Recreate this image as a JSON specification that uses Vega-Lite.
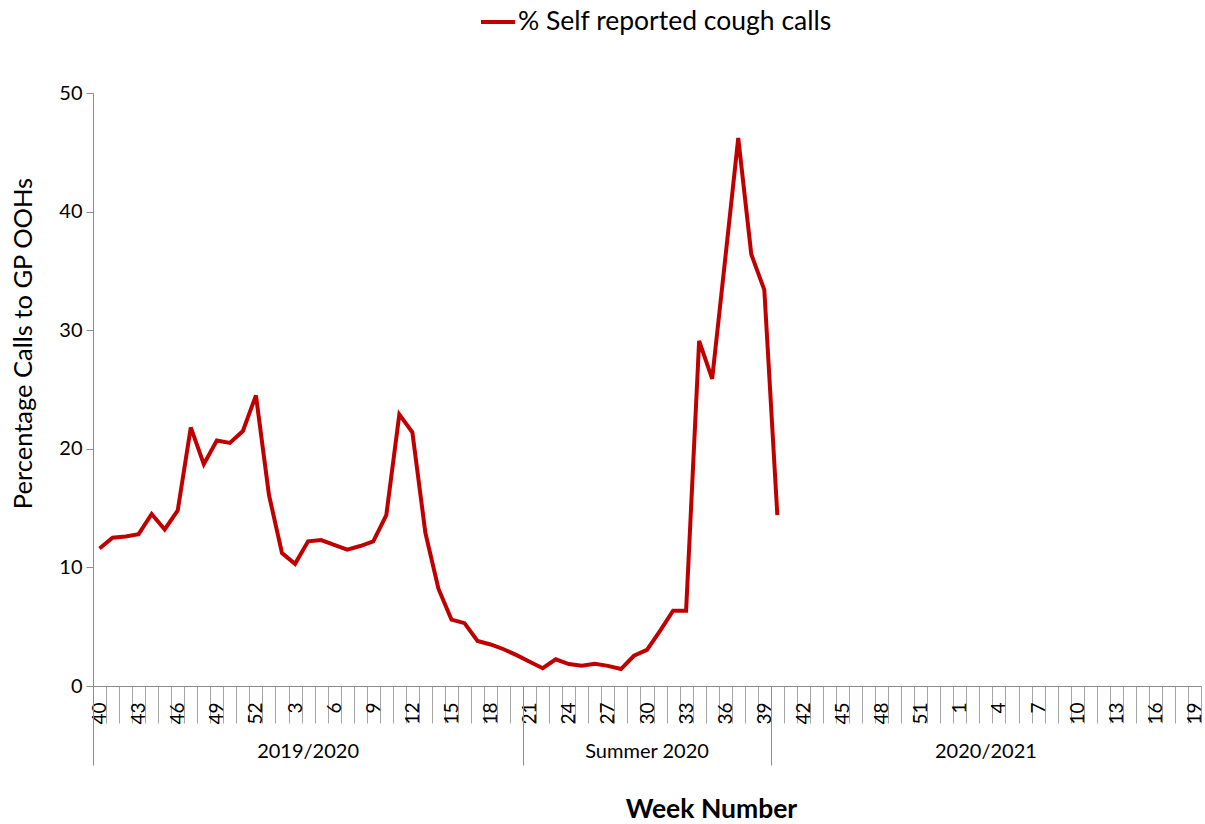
{
  "$schema": "https://vega.github.io/schema/vega-lite/v6.json",
  "width": 1108,
  "height": 593,
  "autosize": {"type": "none"},
  "padding": {"left": 93, "top": 93, "right": 4, "bottom": 138},
  "background": "white",
  "config": {
    "view": {"stroke": null},
    "font": "Lato",
    "axis": {"labelFont": "Lato", "titleFont": "Lato", "labelColor": "#000000", "titleColor": "#000000", "domainColor": "#8c8c8c", "tickColor": "#8c8c8c", "grid": false}
  },
  "layer": [
    {
      "data": {"values": [
        {"k": "00|40", "season": "2019/2020", "pct": 11.6},
        {"k": "01|41", "season": "2019/2020", "pct": 12.5},
        {"k": "02|42", "season": "2019/2020", "pct": 12.6},
        {"k": "03|43", "season": "2019/2020", "pct": 12.8},
        {"k": "04|44", "season": "2019/2020", "pct": 14.5},
        {"k": "05|45", "season": "2019/2020", "pct": 13.2},
        {"k": "06|46", "season": "2019/2020", "pct": 14.8},
        {"k": "07|47", "season": "2019/2020", "pct": 21.8},
        {"k": "08|48", "season": "2019/2020", "pct": 18.7},
        {"k": "09|49", "season": "2019/2020", "pct": 20.7},
        {"k": "10|50", "season": "2019/2020", "pct": 20.5},
        {"k": "11|51", "season": "2019/2020", "pct": 21.5},
        {"k": "12|52", "season": "2019/2020", "pct": 24.5},
        {"k": "13|1", "season": "2019/2020", "pct": 16.1},
        {"k": "14|2", "season": "2019/2020", "pct": 11.2},
        {"k": "15|3", "season": "2019/2020", "pct": 10.3},
        {"k": "16|4", "season": "2019/2020", "pct": 12.2},
        {"k": "17|5", "season": "2019/2020", "pct": 12.3},
        {"k": "18|6", "season": "2019/2020", "pct": 11.9},
        {"k": "19|7", "season": "2019/2020", "pct": 11.5},
        {"k": "20|8", "season": "2019/2020", "pct": 11.8},
        {"k": "21|9", "season": "2019/2020", "pct": 12.2},
        {"k": "22|10", "season": "2019/2020", "pct": 14.4},
        {"k": "23|11", "season": "2019/2020", "pct": 22.9},
        {"k": "24|12", "season": "2019/2020", "pct": 21.4},
        {"k": "25|13", "season": "2019/2020", "pct": 12.9},
        {"k": "26|14", "season": "2019/2020", "pct": 8.2},
        {"k": "27|15", "season": "2019/2020", "pct": 5.6},
        {"k": "28|16", "season": "2019/2020", "pct": 5.3},
        {"k": "29|17", "season": "2019/2020", "pct": 3.8},
        {"k": "30|18", "season": "2019/2020", "pct": 3.5},
        {"k": "31|19", "season": "2019/2020", "pct": 3.1},
        {"k": "32|20", "season": "2019/2020", "pct": 2.6},
        {"k": "33|21", "season": "Summer 2020", "pct": 2.05},
        {"k": "34|22", "season": "Summer 2020", "pct": 1.5},
        {"k": "35|23", "season": "Summer 2020", "pct": 2.25},
        {"k": "36|24", "season": "Summer 2020", "pct": 1.85},
        {"k": "37|25", "season": "Summer 2020", "pct": 1.7},
        {"k": "38|26", "season": "Summer 2020", "pct": 1.88},
        {"k": "39|27", "season": "Summer 2020", "pct": 1.7},
        {"k": "40|28", "season": "Summer 2020", "pct": 1.43},
        {"k": "41|29", "season": "Summer 2020", "pct": 2.55},
        {"k": "42|30", "season": "Summer 2020", "pct": 3.05},
        {"k": "43|31", "season": "Summer 2020", "pct": 4.65},
        {"k": "44|32", "season": "Summer 2020", "pct": 6.35},
        {"k": "45|33", "season": "Summer 2020", "pct": 6.35},
        {"k": "46|34", "season": "Summer 2020", "pct": 29.1},
        {"k": "47|35", "season": "Summer 2020", "pct": 25.9},
        {"k": "48|36", "season": "Summer 2020", "pct": 36.0},
        {"k": "49|37", "season": "Summer 2020", "pct": 46.2},
        {"k": "50|38", "season": "Summer 2020", "pct": 36.4},
        {"k": "51|39", "season": "Summer 2020", "pct": 33.4},
        {"k": "52|40", "season": "2020/2021", "pct": 14.4},
        {"k": "53|41", "season": "2020/2021", "pct": null},
        {"k": "54|42", "season": "2020/2021", "pct": null},
        {"k": "55|43", "season": "2020/2021", "pct": null},
        {"k": "56|44", "season": "2020/2021", "pct": null},
        {"k": "57|45", "season": "2020/2021", "pct": null},
        {"k": "58|46", "season": "2020/2021", "pct": null},
        {"k": "59|47", "season": "2020/2021", "pct": null},
        {"k": "60|48", "season": "2020/2021", "pct": null},
        {"k": "61|49", "season": "2020/2021", "pct": null},
        {"k": "62|50", "season": "2020/2021", "pct": null},
        {"k": "63|51", "season": "2020/2021", "pct": null},
        {"k": "64|52", "season": "2020/2021", "pct": null},
        {"k": "65|53", "season": "2020/2021", "pct": null},
        {"k": "66|1", "season": "2020/2021", "pct": null},
        {"k": "67|2", "season": "2020/2021", "pct": null},
        {"k": "68|3", "season": "2020/2021", "pct": null},
        {"k": "69|4", "season": "2020/2021", "pct": null},
        {"k": "70|5", "season": "2020/2021", "pct": null},
        {"k": "71|6", "season": "2020/2021", "pct": null},
        {"k": "72|7", "season": "2020/2021", "pct": null},
        {"k": "73|8", "season": "2020/2021", "pct": null},
        {"k": "74|9", "season": "2020/2021", "pct": null},
        {"k": "75|10", "season": "2020/2021", "pct": null},
        {"k": "76|11", "season": "2020/2021", "pct": null},
        {"k": "77|12", "season": "2020/2021", "pct": null},
        {"k": "78|13", "season": "2020/2021", "pct": null},
        {"k": "79|14", "season": "2020/2021", "pct": null},
        {"k": "80|15", "season": "2020/2021", "pct": null},
        {"k": "81|16", "season": "2020/2021", "pct": null},
        {"k": "82|17", "season": "2020/2021", "pct": null},
        {"k": "83|18", "season": "2020/2021", "pct": null},
        {"k": "84|19", "season": "2020/2021", "pct": null}
      ]},
      "mark": {"type": "line", "strokeWidth": 4, "invalid": "break-paths-show-domains"},
      "encoding": {
        "x": {
          "field": "k", "type": "ordinal", "sort": null,
          "scale": {"type": "band", "paddingInner": 0, "paddingOuter": 0},
          "axis": {
            "orient": "bottom",
            "title": "Week Number",
            "titleFontSize": 26.5, "titleFontWeight": "bold",
            "titleX": 618, "titleY": 123, "titleAlign": "center", "titleBaseline": "middle",
            "labelAngle": -90, "labelFontSize": 19, "labelOverlap": false,
            "labelExpr": "toNumber(split(datum.value, '|')[0]) % 3 == 0 ? split(datum.value, '|')[1] : ''",
            "tickBand": "extent", "tickSize": 37, "labelPadding": -21,
            "tickColor": "#a6a6a6"
          }
        },
        "y": {
          "field": "pct", "type": "quantitative",
          "scale": {"domain": [0, 50], "nice": false},
          "axis": {
            "values": [0, 10, 20, 30, 40, 50],
            "title": "Percentage Calls to GP OOHs",
            "titleFontSize": 25.5, "titleFontWeight": "normal",
            "titleX": -70, "titleY": 250, "titleAlign": "center", "titleBaseline": "middle",
            "labelFontSize": 20, "tickSize": 7, "labelPadding": 4
          }
        },
        "color": {
          "datum": "% Self reported cough calls",
          "scale": {"range": ["#C00000"]},
          "legend": {
            "orient": "none", "legendX": 386, "legendY": -90,
            "title": null, "padding": 0,
            "symbolType": "stroke", "symbolStrokeWidth": 4, "symbolSize": 1156,
            "labelFontSize": 26.5, "labelOffset": 1, "labelLimit": 0, "labelColor": "#000000", "labelFont": "Lato"
          }
        }
      }
    },
    {
      "data": {"values": [
        {"season": "2019/2020", "start": 0, "end": 33},
        {"season": "Summer 2020", "start": 33, "end": 52},
        {"season": "2020/2021", "start": 52, "end": 85}
      ]},
      "transform": [{"calculate": "(datum.start + datum.end) / 2", "as": "mid"}],
      "mark": {"type": "text", "fontSize": 20, "color": "#000000", "baseline": "middle", "align": "center", "dy": 66},
      "encoding": {
        "x": {
          "field": "mid", "type": "quantitative",
          "scale": {"domain": [0, 85], "nice": false, "zero": false},
          "axis": {
            "orient": "bottom", "values": [0, 33, 52], "tickSize": 79,
            "labels": false, "domain": false, "title": null, "tickColor": "#8c8c8c"
          }
        },
        "y": {"datum": 0, "type": "quantitative"},
        "text": {"field": "season"}
      }
    }
  ],
  "resolve": {"scale": {"x": "independent"}}
}
